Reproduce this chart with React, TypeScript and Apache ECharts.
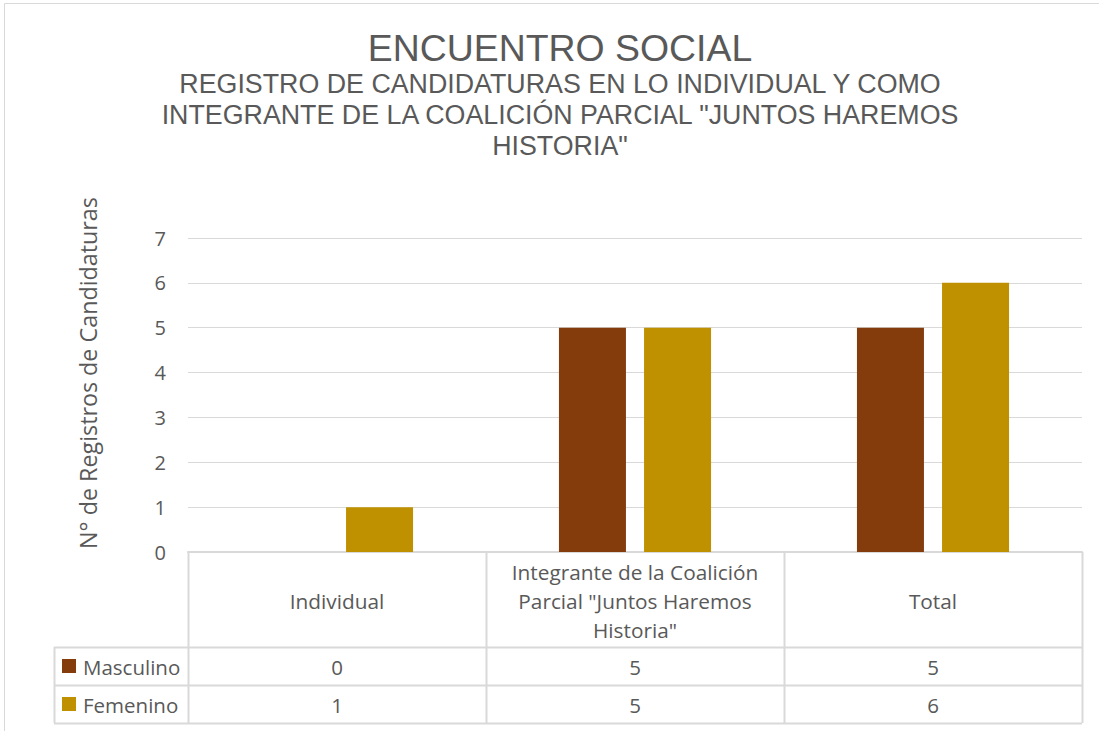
import React, { useEffect, useRef } from "react";
import * as echarts from "echarts";

const categories = ["Individual", "Integrante de la Coalición Parcial \"Juntos Haremos Historia\"", "Total"];
const headerLines = [["Individual"], ["Integrante de la Coalición", "Parcial \"Juntos Haremos", "Historia\""], ["Total"]];
const seriesNames = ["Masculino", "Femenino"];
const masculino = [0, 5, 5];
const femenino = [1, 5, 6];
const colors = ["#843C0C", "#BF9000"];
const yTicks = [0, 1, 2, 3, 4, 5, 6, 7];

const TITLE = "ENCUENTRO SOCIAL";
const SUBTITLE = [
  "REGISTRO DE CANDIDATURAS EN LO INDIVIDUAL Y COMO",
  "INTEGRANTE DE LA COALICIÓN PARCIAL \"JUNTOS HAREMOS",
  "HISTORIA\"",
];
const Y_NAME = "N° de Registros de Candidaturas";

const W = 1099;
const H = 731;
const GL = 188;
const GR = 1082;
const GT = 238;
const GB = 552;
const TL = 54;
const ROW1 = 647;
const ROW2 = 685;
const ROW3 = 723;
const LINE = "#D9D9D9";
const TEXT = "#595959";
const TFONT = "'Open Sans', 'Noto Sans', sans-serif";
const AFONT = "'Liberation Sans', Arial, sans-serif";

export default function App() {
  const ref = useRef<HTMLDivElement>(null);
  useEffect(() => {
    document.body.style.margin = "0";
    const chart = echarts.init(ref.current!, null, { renderer: "svg" });
    const colW = (GR - GL) / categories.length;
    const g: any[] = [];
    g.push({ type: "rect", shape: { x: 4.5, y: 3.5, width: W, height: H }, style: { fill: "none", stroke: LINE, lineWidth: 1 }, silent: true });
    g.push({ type: "text", x: 560, y: 48, style: { text: TITLE, font: `37.4px ${AFONT}`, fill: TEXT, align: "center", verticalAlign: "middle" } });
    SUBTITLE.forEach((s, i) => {
      g.push({ type: "text", x: 560, y: 84 + i * 31, style: { text: s, font: `26.8px ${AFONT}`, fill: TEXT, align: "center", verticalAlign: "middle" } });
    });
    g.push({ type: "text", x: 88, y: 373, rotation: Math.PI / 2, style: { text: Y_NAME, font: `23.3px ${TFONT}`, fill: TEXT, align: "center", verticalAlign: "middle" } });
    const hl = (x1: number, x2: number, y: number) => g.push({ type: "line", shape: { x1, y1: y + 0.5, x2, y2: y + 0.5 }, style: { stroke: LINE, lineWidth: 2 }, silent: true });
    const vl = (x: number, y1: number, y2: number) => g.push({ type: "line", shape: { x1: x + 0.5, y1, x2: x + 0.5, y2 }, style: { stroke: LINE, lineWidth: 2 }, silent: true });
    hl(TL, GR, ROW1);
    hl(TL, GR, ROW2);
    hl(TL, GR, ROW3);
    vl(TL, ROW1, ROW3);
    for (let i = 0; i <= categories.length; i++) vl(GL + i * colW, GB, ROW3);
    headerLines.forEach((lines, i) => {
      const cx = GL + (i + 0.5) * colW;
      const cy = (GB + ROW1) / 2 + 1;
      lines.forEach((t, j) => {
        g.push({ type: "text", x: cx, y: cy + (j - (lines.length - 1) / 2) * 29, style: { text: t, font: `20.8px ${TFONT}`, fill: TEXT, align: "center", verticalAlign: "middle" } });
      });
    });
    const rows = [masculino, femenino];
    const rowY = [(ROW1 + ROW2) / 2, (ROW2 + ROW3) / 2];
    rows.forEach((vals, r) => {
      g.push({ type: "rect", shape: { x: 62, y: rowY[r] - 7, width: 14, height: 14 }, style: { fill: colors[r] } });
      g.push({ type: "text", x: 83, y: rowY[r] + 1, style: { text: seriesNames[r], font: `20.5px ${TFONT}`, fill: TEXT, align: "left", verticalAlign: "middle" } });
      vals.forEach((v, i) => {
        g.push({ type: "text", x: GL + (i + 0.5) * colW, y: rowY[r] + 1, style: { text: String(v), font: `20.5px ${TFONT}`, fill: TEXT, align: "center", verticalAlign: "middle" } });
      });
    });

    chart.setOption({
      animation: false,
      grid: { left: GL, right: W - GR, top: GT, bottom: H - GB, containLabel: false },
      xAxis: {
        type: "category",
        data: categories,
        axisLine: { show: true, lineStyle: { color: LINE, width: 2 } },
        axisTick: { show: false },
        axisLabel: { show: false },
      },
      yAxis: {
        type: "value",
        min: yTicks[0],
        max: yTicks[yTicks.length - 1],
        interval: 1,
        axisLine: { show: false },
        axisTick: { show: false },
        axisLabel: { fontSize: 20, color: TEXT, fontFamily: TFONT, margin: 22 },
        splitLine: { lineStyle: { color: LINE, width: 1 } },
      },
      series: [
        { name: seriesNames[0], type: "bar", data: masculino, barWidth: 67, barGap: "27%", itemStyle: { color: colors[0] } },
        { name: seriesNames[1], type: "bar", data: femenino, barWidth: 67, barGap: "27%", itemStyle: { color: colors[1] } },
      ],
      graphic: g,
    });
    return () => chart.dispose();
  }, []);
  return <div ref={ref} style={{ width: W, height: H, position: "absolute", left: 0, top: 0, background: "#fff" }} />;
}
